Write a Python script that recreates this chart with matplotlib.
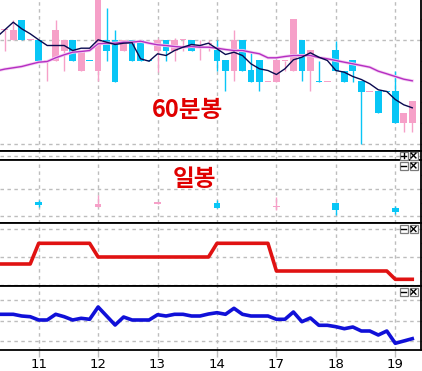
import matplotlib
matplotlib.use('Agg')
import matplotlib.pyplot as plt
from matplotlib.patches import Rectangle
import numpy as np

W, H, DPI = 422, 371, 100

# ---------------- data ----------------
day_labels = ['11', '12', '13', '14', '17', '18', '19']
bars_per_day = [4, 7, 7, 7, 7, 7, 7, 3]          # day 10 (partial) .. day 19 (partial)

# hourly (60-minute) candles
opens  = [120.3, 110.7, 131.0, 110.5, 110.7, 89.1, 89.3, 99.3, 110.7, 79.3,
          89.5, 79.3, 110.7, 110.7, 99.3, 110.7, 110.7, 90.2, 99.3, 110.7,
          99.3, 110.5, 110.7, 104.8, 106.8, 100.0, 90.0, 79.3, 110.7, 80.0,
          90.0, 68.8, 68.3, 89.1, 79.3, 110.7, 79.3, 69.2, 68.8, 100.0,
          79.3, 90.0, 69.0, 58.8, 59.0, 59.2, 59.0, 27.3, 27.3]
highs  = [120.7, 130.7, 131.0, 110.7, 110.7, 89.3, 131.0, 110.7, 110.7, 99.3,
          89.5, 155.0, 142.7, 120.7, 110.7, 110.7, 110.7, 90.2, 113.0, 110.7,
          113.0, 110.7, 110.7, 110.7, 110.7, 110.7, 90.0, 120.7, 110.7, 99.3,
          90.0, 69.0, 90.0, 89.3, 131.0, 110.7, 100.0, 90.0, 69.0, 110.0,
          79.3, 90.0, 69.0, 59.0, 59.0, 59.2, 79.3, 37.7, 49.0]
lows   = [100.0, 110.7, 110.7, 110.5, 89.3, 69.3, 89.3, 80.0, 89.3, 79.3,
          89.3, 69.3, 90.0, 68.3, 99.3, 89.3, 89.3, 90.0, 78.3, 90.0,
          89.3, 100.0, 99.3, 90.7, 100.0, 80.0, 59.3, 69.3, 79.3, 68.3,
          59.3, 68.8, 68.3, 79.3, 79.3, 69.3, 59.3, 69.0, 68.8, 79.3,
          68.3, 69.0, 6.7, 58.8, 37.3, 59.0, 27.3, 18.3, 18.3]
closes = [120.7, 120.7, 110.7, 110.7, 89.3, 89.3, 120.7, 110.7, 89.3, 99.3,
          89.3, 155.0, 99.3, 68.3, 110.7, 89.3, 89.3, 90.0, 110.7, 99.3,
          110.7, 110.7, 99.3, 105.0, 107.0, 89.3, 79.3, 110.7, 79.3, 68.3,
          68.3, 69.0, 90.0, 89.3, 131.0, 79.3, 100.0, 69.0, 69.0, 79.3,
          68.3, 79.3, 58.3, 59.0, 37.3, 59.0, 27.3, 37.7, 49.0]

# moving averages (first value is the bar just left of the window)
ma_short = [113.0, 120.6, 128.3, 121.7, 116.7, 110.7, 105.0, 105.0, 105.0, 100.0,
            102.3, 102.3, 110.7, 108.3, 106.0, 107.3, 107.7, 91.7, 89.3, 96.7,
            95.0, 100.0, 103.3, 106.0, 105.0, 107.3, 101.7, 96.0, 98.3, 95.0,
            86.7, 81.7, 80.0, 76.0, 81.7, 90.7, 93.3, 97.7, 93.3, 90.0,
            80.0, 78.3, 74.0, 71.0, 66.7, 60.7, 59.0, 51.0, 45.7, 42.7]
ma_long  = [79.5, 81.4, 82.7, 84.0, 86.2, 88.3, 89.0, 92.7, 95.7, 98.3,
            99.0, 100.0, 106.7, 107.3, 107.3, 108.3, 108.3, 109.3, 107.3, 105.7,
            105.0, 104.0, 103.3, 104.0, 103.3, 103.3, 102.3, 101.0, 100.0, 100.0,
            98.3, 96.7, 92.7, 92.7, 94.0, 95.0, 95.0, 95.0, 93.0, 91.7,
            90.0, 88.3, 86.7, 85.0, 83.3, 79.3, 76.7, 74.0, 71.3, 69.7]

# daily candles (일봉)
d_open  = [21.6, 16.6, 19.6, 20.6, 16.3, 20.6, 15.0]
d_high  = [23.3, 28.3, 21.6, 23.3, 26.6, 20.6, 17.3]
d_low   = [16.6, 16.6, 19.0, 15.0, 13.3, 8.3, 9.3]
d_close = [18.3, 19.6, 21.3, 15.6, 16.5, 13.3, 11.6]

# indicator 1 (daily step values: day 10 .. day 19)
ind1_daily = [22.3, 43.0, 29.3, 29.3, 43.0, 15.3, 15.3, 7.0]

# indicator 2 (hourly, first value is bar left of window)
ind2 = [35.4, 35.4, 35.4, 33.7, 33.0, 29.7, 29.7, 35.4, 33.0, 29.7,
        31.4, 30.4, 42.7, 33.7, 24.7, 32.7, 29.7, 29.7, 29.7, 35.0,
        33.7, 35.4, 35.4, 33.7, 33.7, 35.7, 37.0, 35.4, 41.4, 35.4,
        33.7, 33.7, 33.7, 30.4, 30.4, 37.7, 28.0, 31.7, 24.4, 24.4,
        23.0, 21.0, 22.7, 18.7, 18.7, 14.7, 18.7, 6.4, 8.7, 11.0]

# ---------------- derived positions ----------------
n = len(opens)
idx = np.arange(n)
idx_ext = np.arange(-1, n)
day_start = np.cumsum([0] + bars_per_day[:-1])[1:]      # first bar of days 11..19
ind1 = np.repeat(ind1_daily, bars_per_day)
ind1_ext = np.concatenate([[ind1_daily[0]], ind1])

PINK = '#F6A0C8'
CYAN = '#08C6F6'
GRID = '#BDBDBD'
XL = (-0.558, 48.97)

fig = plt.figure(figsize=(W / DPI, H / DPI), dpi=DPI)
fig.patch.set_facecolor('white')


def add_ax(top_px, bot_px):
    return fig.add_axes([0, 1 - bot_px / H, 420.5 / W, (bot_px - top_px) / H])


def style(ax, yticks, ygrid, ylim, top=True):
    ax.set_xlim(*XL)
    ax.set_ylim(*ylim)
    ax.spines['left'].set_visible(False)
    ax.spines['top'].set_visible(top)
    for s in ['top', 'bottom', 'right']:
        ax.spines[s].set_color('black')
        ax.spines[s].set_linewidth(1.3)
    ax.yaxis.tick_right()
    ax.set_yticks(yticks)
    ax.tick_params(axis='y', direction='out', length=1.8, width=1, labelright=False,
                   colors='black')
    ax.set_xticks(day_start)
    ax.tick_params(axis='x', length=0, labelbottom=False)
    for d in day_start:
        ax.axvline(d, color=GRID, lw=1, dashes=(2.5, 2.5), zorder=0)
    for g in ygrid:
        ax.axhline(g, color=GRID, lw=1, dashes=(2.5, 2.5), zorder=0)


def candles(ax, xs, o, h, l, c, width=0.79, minh=0.9):
    for x, oo, hh, ll, cc in zip(xs, o, h, l, c):
        col = PINK if cc >= oo else CYAN
        ax.vlines(x, ll, hh, color=col, lw=1, zorder=2)
        b = min(oo, cc)
        ht = max(abs(cc - oo), minh)
        ax.bar(x, ht, bottom=b, width=width, color=col, lw=0, zorder=3)


# panel 1: 60-minute candles
ax1 = add_ax(0, 150.5)
t1 = np.arange(6.7, 151, 20.8)
style(ax1, t1, [6.7, 110.7], (0, 150.5), top=False)
candles(ax1, idx, opens, highs, lows, closes)
ax1.plot(idx_ext, ma_long, color='#F5CDF2', lw=2.2, zorder=4, solid_joinstyle='round')
ax1.plot(idx_ext, ma_long, color='#B42EC2', lw=1.0, zorder=5)
ax1.plot(idx_ext, ma_short, color='#0A0A50', lw=1.0, zorder=6)

# thin panel
ax_t = add_ax(150.5, 160.3)
style(ax_t, [], [4.0], (0, 9.8))

# panel 2: daily candles
ax2 = add_ax(160.3, 223.3)
style(ax2, [7, 20.8, 34.6, 48.4], [7, 34.6], (0, 63))
candles(ax2, day_start, d_open, d_high, d_low, d_close, minh=0.9)

# panel 3
ax3 = add_ax(223.3, 286.3)
style(ax3, [1.3, 15.3, 29.3, 43.3, 57.3], [1.3, 29.3, 57.3], (0, 63))
ax3.plot(idx_ext, ind1_ext, color='#E01212', lw=2.6, zorder=3)

# panel 4
ax4 = add_ax(286.3, 349.7)
style(ax4, [8.4, 28.9, 49.4], [8.4, 28.9, 49.4], (0, 63.4))
ax4.plot(idx_ext, ind2, color='#1010D8', lw=2.6, zorder=3)
ax4.tick_params(axis='x', length=5, width=1, color=GRID, labelbottom=True, pad=1,
                labelsize=9.5)
ax4.set_xticklabels(day_labels, family=['Liberation Sans Narrow', 'DejaVu Sans'])

# overlay in pixel coordinates for titles and panel buttons
ov = fig.add_axes([0, 0, 1, 1], zorder=20)
ov.set_xlim(0, W)
ov.set_ylim(H, 0)
ov.axis('off')
ov.patch.set_alpha(0)

kfont = ['Noto Sans CJK KR', 'DejaVu Sans']
ov.text(187.5, 110, '60분봉', color='#E00000', fontsize=17, fontweight='bold',
        family=kfont, ha='center', va='center')
ov.text(195, 178.5, '일봉', color='#E00000', fontsize=17, fontweight='bold',
        family=kfont, ha='center', va='center')


def button(x, y, kind):
    ov.add_patch(Rectangle((x, y), 8, 8, facecolor='white', edgecolor='#7A7A7A', lw=0.9))
    cx, cy = x + 4, y + 4
    if kind in ('+', '-'):
        ov.plot([cx - 2.6, cx + 2.6], [cy, cy], color='black', lw=1)
    if kind == '+':
        ov.plot([cx, cx], [cy - 2.6, cy + 2.6], color='black', lw=1)
    if kind == 'x':
        ov.plot([cx - 2.4, cx + 2.4], [cy - 2.4, cy + 2.4], color='black', lw=1)
        ov.plot([cx - 2.4, cx + 2.4], [cy + 2.4, cy - 2.4], color='black', lw=1)


for (yb, k) in [(151.5, '+'), (161.5, '-'), (225, '-'), (287.8, '-')]:
    button(399.5, yb, k)
    button(409.5, yb, 'x')

fig.savefig('out.png', dpi=DPI, facecolor='white')
